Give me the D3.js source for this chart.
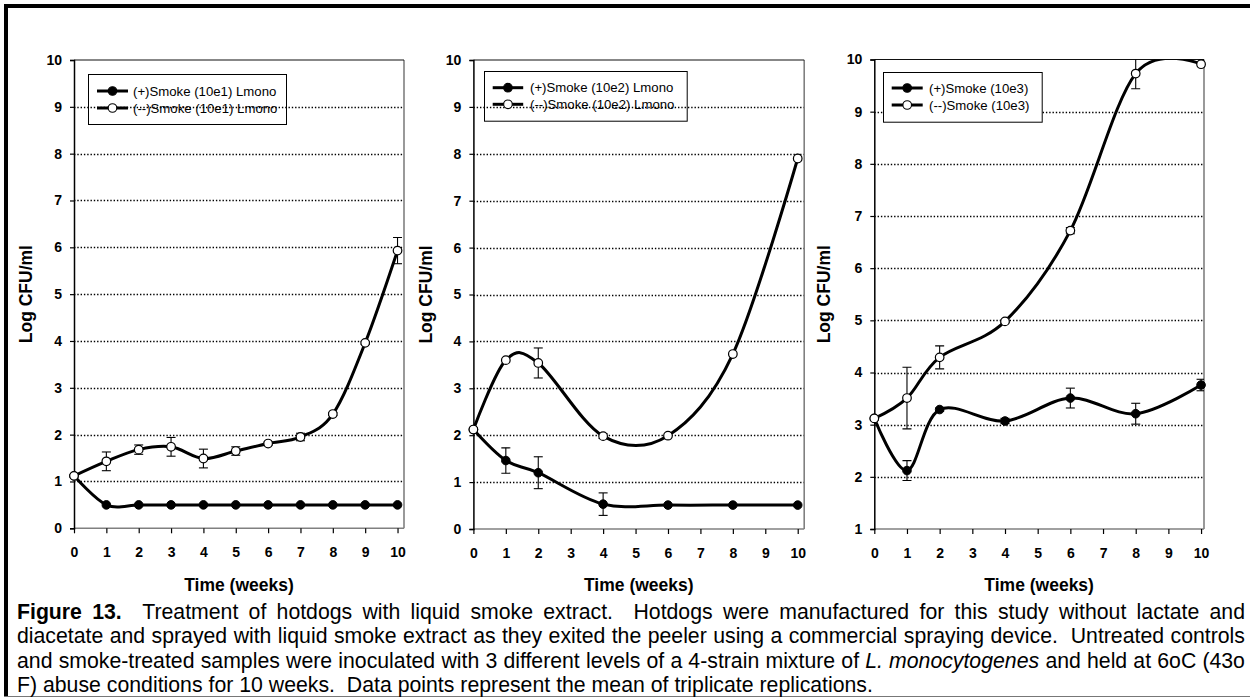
<!DOCTYPE html>
<html>
<head>
<meta charset="utf-8">
<script src="https://cdn.jsdelivr.net/npm/d3@7"></script>
<style>
  html, body { margin: 0; padding: 0; background: #fff; }
  svg { display: block; font-family: "Liberation Sans", Arial, Helvetica, sans-serif; }
</style>
</head>
<body>
<svg id="fig" width="1250" height="698"></svg>
<script>
// ---- sampling weeks -------------------------------------------------------
const weeks1 = [0, 1, 2, 3, 4, 5, 6, 7, 8, 9, 10];
const weeks2 = [0, 1, 2, 4, 6, 8, 10];
const weeks3 = [0, 1, 2, 4, 6, 8, 10];
const xTickValues = [0, 1, 2, 3, 4, 5, 6, 7, 8, 9, 10];
const yTicks1 = [0, 1, 2, 3, 4, 5, 6, 7, 8, 9, 10];
const yTicks2 = [0, 1, 2, 3, 4, 5, 6, 7, 8, 9, 10];
const yTicks3 = [1, 2, 3, 4, 5, 6, 7, 8, 9, 10];

// ---- 10e1 inoculum (log CFU/ml, mean and error half-width) ----------------
const smoke1     = [1.12, 0.50, 0.50, 0.50, 0.50, 0.50, 0.50, 0.50, 0.50, 0.50, 0.50];
const smoke1Err  = [0, 0, 0, 0, 0, 0, 0, 0, 0, 0, 0];
const control1   = [1.12, 1.43, 1.68, 1.74, 1.49, 1.65, 1.81, 1.95, 2.44, 3.96, 5.93];
const control1Err= [0, 0.20, 0.10, 0.20, 0.20, 0.09, 0.03, 0.08, 0.03, 0.03, 0.28];

// ---- 10e2 inoculum --------------------------------------------------------
const smoke2     = [2.12, 1.46, 1.20, 0.53, 0.51, 0.51, 0.51];
const smoke2Err  = [0, 0.27, 0.34, 0.24, 0, 0, 0];
const control2   = [2.12, 3.60, 3.54, 1.98, 1.99, 3.73, 7.90];
const control2Err= [0, 0, 0.32, 0.05, 0, 0, 0];

// ---- 10e3 inoculum --------------------------------------------------------
const smoke3     = [3.12, 2.12, 3.29, 3.07, 3.51, 3.21, 3.76];
const smoke3Err  = [0, 0.19, 0.03, 0.05, 0.19, 0.20, 0.11];
const control3   = [3.12, 3.51, 4.29, 4.98, 6.72, 9.73, 9.91];
const control3Err= [0, 0.59, 0.22, 0.02, 0.06, 0.29, 0];

// ---- legend texts ---------------------------------------------------------
const legend1 = ["(+)Smoke (10e1) Lmono", "(--)Smoke (10e1) Lmono"];
const legend2 = ["(+)Smoke (10e2) Lmono", "(--)Smoke (10e2) Lmono"];
const legend3 = ["(+)Smoke (10e3)", "(--)Smoke (10e3)"];

const yTitle = "Log CFU/ml";
const xTitle = "Time (weeks)";

// ---- caption --------------------------------------------------------------
const captionLines = [
  [{ t: "Figure 13.", b: true }, { t: "  Treatment of hotdogs with liquid smoke extract.  Hotdogs were manufactured for this study without lactate and" }],
  [{ t: "diacetate and sprayed with liquid smoke extract as they exited the peeler using a commercial spraying device.  Untreated controls" }],
  [{ t: "and smoke-treated samples were inoculated with 3 different levels of a 4-strain mixture of " }, { t: "L. monocytogenes", i: true }, { t: " and held at 6oC (43o" }],
  [{ t: "F) abuse conditions for 10 weeks.  Data points represent the mean of triplicate replications." }]
];

// ---- panel layout -----------------------------------------------------------
const panels = [
  { weeks: weeks1, smoke: smoke1, smokeErr: smoke1Err, control: control1, controlErr: control1Err,
    legend: legend1, yTicks: yTicks1, yMin: 0, xMax: 10.2,
    left: 74, right: 404, top: 60, bottom: 528.3, titleX: 32,
    lg: { x: 88, y: 74, w: 198, h: 50, sx: 97, sw: 31, tx: 133, r1: 91, r2: 108, fill: "none" } },
  { weeks: weeks2, smoke: smoke2, smokeErr: smoke2Err, control: control2, controlErr: control2Err,
    legend: legend2, yTicks: yTicks2, yMin: 0, xMax: 10.2,
    left: 473.4, right: 804.2, top: 60, bottom: 529, titleX: 431.7,
    lg: { x: 484, y: 71, w: 202.7, h: 49.7, sx: 492.7, sw: 30.5, tx: 530, r1: 87.7, r2: 104.3, fill: "none" } },
  { weeks: weeks3, smoke: smoke3, smokeErr: smoke3Err, control: control3, controlErr: control3Err,
    legend: legend3, yTicks: yTicks3, yMin: 1, xMax: 10.09,
    left: 874.3, right: 1204, top: 59.5, bottom: 529, titleX: 830,
    lg: { x: 883, y: 72, w: 158.7, h: 49.7, sx: 891.7, sw: 31, tx: 929, r1: 88, r2: 105, fill: "#fff" } }
];

const svg = d3.select("#fig");
const R = 4.3;
const curve = d3.curveCardinal.tension(0);

// outer frame: heavy rule top and left, hairline at the bottom
svg.append("rect").attr("x", 4).attr("y", 4).attr("width", 1246).attr("height", 4).attr("fill", "#000");
svg.append("rect").attr("x", 4).attr("y", 4).attr("width", 4).attr("height", 693).attr("fill", "#000");
svg.append("line").attr("x1", 4).attr("x2", 1250).attr("y1", 696.5).attr("y2", 696.5)
  .attr("stroke", "#777").attr("stroke-width", 1);

panels.forEach((p, idx) => {
  const g = svg.append("g");
  const x = d3.scaleLinear().domain([0, p.xMax]).range([p.left, p.right]);
  const y = d3.scaleLinear().domain([p.yMin, 10]).range([p.bottom, p.top]);

  const clipId = "clip" + idx;
  g.append("clipPath").attr("id", clipId).append("rect")
    .attr("x", p.left).attr("y", p.top).attr("width", p.right - p.left).attr("height", p.bottom - p.top);

  // dotted horizontal gridlines
  g.append("g").selectAll("line")
    .data(p.yTicks.filter(v => v > p.yMin && v < 10))
    .join("line")
    .attr("x1", p.left).attr("x2", p.right)
    .attr("y1", d => Math.round(y(d)) + 0.5).attr("y2", d => Math.round(y(d)) + 0.5)
    .attr("stroke", "#000").attr("stroke-width", 1.3).attr("stroke-dasharray", "1.4,1.9");

  // plot-area border
  g.append("line").attr("x1", p.right).attr("x2", p.right).attr("y1", p.top).attr("y2", p.bottom)
    .attr("stroke", "#808080").attr("stroke-width", 1.6);
  g.append("line").attr("x1", p.left).attr("x2", p.right).attr("y1", p.bottom).attr("y2", p.bottom)
    .attr("stroke", "#808080").attr("stroke-width", 1.6);
  g.append("line").attr("x1", p.left).attr("x2", p.right).attr("y1", p.top).attr("y2", p.top)
    .attr("stroke", "#111").attr("stroke-width", 1.2);

  // y axis
  const ya = g.append("g").attr("transform", `translate(${p.left},0)`)
    .call(d3.axisLeft(y).tickValues(p.yTicks).tickFormat(d3.format("d")).tickSize(4).tickPadding(8));
  ya.select(".domain").attr("stroke", "#000").attr("stroke-width", 1.5);
  ya.selectAll(".tick line").attr("stroke", "#000").attr("stroke-width", 1.2);
  ya.selectAll(".tick text").style("font-size", "14px").style("font-weight", "bold").attr("fill", "#000")
    .style("font-family", "\"Liberation Sans\", Arial, sans-serif");

  // x axis
  const xa = g.append("g").attr("transform", `translate(0,${p.bottom})`)
    .call(d3.axisBottom(x).tickValues(xTickValues).tickFormat(d3.format("d")).tickSize(5).tickPadding(14));
  xa.select(".domain").remove();
  xa.selectAll(".tick line").attr("stroke", "#000").attr("stroke-width", 1.2);
  xa.selectAll(".tick text").style("font-size", "14px").style("font-weight", "bold").attr("fill", "#000")
    .style("font-family", "\"Liberation Sans\", Arial, sans-serif");

  // axis titles
  g.append("text")
    .attr("transform", `translate(${p.titleX},${(p.top + p.bottom) / 2}) rotate(-90)`)
    .attr("text-anchor", "middle").style("font-size", "17.5px").style("font-weight", "bold")
    .text(yTitle);
  g.append("text")
    .attr("x", (p.left + p.right) / 2).attr("y", 590.5)
    .attr("text-anchor", "middle").style("font-size", "17.5px").style("font-weight", "bold")
    .text(xTitle);

  // series lines (clipped to the plot area)
  const line = d3.line().x(d => x(d[0])).y(d => y(d[1])).curve(curve);
  const smokePts = p.weeks.map((w, i) => [w, p.smoke[i], p.smokeErr[i]]);
  const ctrlPts = p.weeks.map((w, i) => [w, p.control[i], p.controlErr[i]]);
  const clipped = g.append("g").attr("clip-path", `url(#${clipId})`);
  [smokePts, ctrlPts].forEach(pts => {
    clipped.append("path").attr("d", line(pts)).attr("fill", "none")
      .attr("stroke", "#000").attr("stroke-width", 3).attr("stroke-linejoin", "round");
  });

  // error bars
  [smokePts, ctrlPts].forEach(pts => {
    const eb = clipped.append("g").selectAll("g").data(pts.filter(d => d[2] > 0)).join("g")
      .attr("stroke", "#000").attr("stroke-width", 1.1);
    eb.append("line").attr("x1", d => x(d[0])).attr("x2", d => x(d[0]))
      .attr("y1", d => y(d[1] - d[2])).attr("y2", d => y(d[1] + d[2]));
    eb.append("line").attr("x1", d => x(d[0]) - 4.5).attr("x2", d => x(d[0]) + 4.5)
      .attr("y1", d => y(d[1] - d[2])).attr("y2", d => y(d[1] - d[2]));
    eb.append("line").attr("x1", d => x(d[0]) - 4.5).attr("x2", d => x(d[0]) + 4.5)
      .attr("y1", d => y(d[1] + d[2])).attr("y2", d => y(d[1] + d[2]));
  });

  // markers
  g.append("g").selectAll("circle").data(smokePts).join("circle")
    .attr("cx", d => x(d[0])).attr("cy", d => y(d[1])).attr("r", R)
    .attr("fill", "#000").attr("stroke", "#000").attr("stroke-width", 1);
  g.append("g").selectAll("circle").data(ctrlPts).join("circle")
    .attr("cx", d => x(d[0])).attr("cy", d => y(d[1])).attr("r", R)
    .attr("fill", "#fff").attr("stroke", "#000").attr("stroke-width", 1.2);

  // legend
  const L = p.lg;
  const lgG = g.append("g");
  lgG.append("rect").attr("x", L.x + 0.5).attr("y", L.y + 0.5).attr("width", L.w).attr("height", L.h)
    .attr("fill", L.fill).attr("stroke", "#000").attr("stroke-width", 1);
  [L.r1, L.r2].forEach((ry, k) => {
    lgG.append("line").attr("x1", L.sx).attr("x2", L.sx + L.sw).attr("y1", ry).attr("y2", ry)
      .attr("stroke", "#000").attr("stroke-width", 3);
    lgG.append("circle").attr("cx", L.sx + L.sw / 2).attr("cy", ry).attr("r", R)
      .attr("fill", k === 0 ? "#000" : "#fff").attr("stroke", "#000").attr("stroke-width", 1.1);
    lgG.append("text").attr("x", L.tx).attr("y", ry + 4.7).style("font-size", "13.2px").attr("fill", "#000")
      .text(p.legend[k]);
  });
});

// ---- caption with justified lines ------------------------------------------
(function drawCaption() {
  const left = 17, right = 1245, width = right - left;
  const baselines = [619, 643.3, 667.7, 691.7];
  const baseSize = 16;
  const meas = svg.append("text").style("font-size", baseSize + "px").attr("visibility", "hidden");
  const measure = (t, tok) => {
    meas.style("font-weight", tok.b ? "bold" : "normal").style("font-style", tok.i ? "italic" : "normal").text(t);
    return meas.node().getComputedTextLength();
  };
  // split lines into words carrying their style, and the space count before each word
  const lines = captionLines.map(segs => {
    const words = [];
    let pending = 0;
    segs.forEach(seg => {
      seg.t.split(/( +)/).forEach(part => {
        if (part === "") return;
        if (/^ +$/.test(part)) { pending += part.length; return; }
        words.push({ t: part, b: !!seg.b, i: !!seg.i, gap: words.length ? pending : 0, w: 0 });
        pending = 0;
      });
    });
    words.forEach(w => { w.w = measure(w.t, w); });
    return words;
  });
  meas.remove();
  const spaceW = baseSize * 0.2778;
  const natural = ws => d3.sum(ws, w => w.w) + d3.sum(ws, w => w.gap) * spaceW;
  const scale = 856 / natural(lines[3]);
  const fs = baseSize * scale;

  lines.forEach((ws, li) => {
    const W = d3.sum(ws, w => w.w) * scale;
    const S = d3.sum(ws, w => w.gap);
    const perSpace = li < 3 ? (width - W) / S : spaceW * scale;
    let cx = left;
    ws.forEach(w => {
      cx += w.gap * perSpace;
      svg.append("text").attr("x", cx).attr("y", baselines[li])
        .style("font-size", fs + "px").style("font-weight", w.b ? "bold" : "normal")
        .style("font-style", w.i ? "italic" : "normal").attr("fill", "#000")
        .text(w.t);
      cx += w.w * scale;
    });
  });
})();
</script>
</body>
</html>
